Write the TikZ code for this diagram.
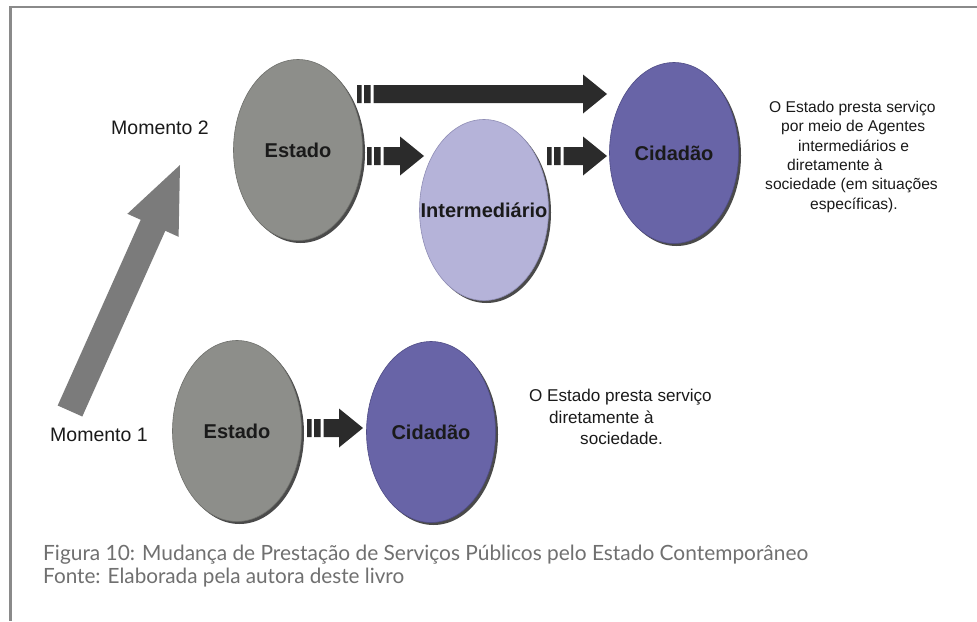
\documentclass[tikz,border=0pt]{standalone}
\usepackage{fontspec}
\usepackage{graphicx}
\setmainfont{Liberation Sans}
\newfontfamily\capfont{Lato}
\usetikzlibrary{shapes.geometric,shadows,calc}
\definecolor{framegray}{HTML}{8A8A8A}
\definecolor{estadofill}{HTML}{8D8E8A}
\definecolor{estadodraw}{HTML}{6E6F6B}
\definecolor{cidfill}{HTML}{6864A7}
\definecolor{ciddraw}{HTML}{4F4C85}
\definecolor{interfill}{HTML}{B5B3D9}
\definecolor{interdraw}{HTML}{8F8DB5}
\definecolor{shadowgray}{HTML}{4A4A4A}
\definecolor{arrowfill}{HTML}{2B2B2B}
\definecolor{bigarrowfill}{HTML}{7B7B7B}
\definecolor{labeltext}{HTML}{1A1A1A}
\definecolor{captext}{HTML}{707070}
\tikzset{
  blob/.style={ellipse, inner sep=0pt, minimum width=129pt, minimum height=181pt,
    line width=0.6pt,
    drop shadow={shadow xshift=2.5pt, shadow yshift=-2.5pt, fill=shadowgray, opacity=1},
    font=\bfseries\fontsize{20}{24}\selectfont, text=labeltext},
  estadoblob/.style={blob, fill=estadofill, draw=estadodraw},
  cidblob/.style={blob, fill=cidfill, draw=ciddraw},
  interblob/.style={blob, fill=interfill, draw=interdraw},
  momento/.style={font=\fontsize{19.5}{23}\selectfont, text=labeltext, inner sep=0pt},
  note/.style={align=left, inner sep=0pt, anchor=north west, text=labeltext},
  caption/.style={inner sep=0pt, anchor=base west, text=captext, font=\capfont\fontsize{21}{25}\selectfont}
}
\newcommand\blockarrow[2]{%
  \fill[arrowfill] let \p1=(#1), \p2=(#2) in
    (\x1,\y1-9pt) rectangle (\x1+4.5pt,\y1+9pt)
    (\x1+7pt,\y1-9pt) rectangle (\x1+13.5pt,\y1+9pt)
    (\x1+16.5pt,\y1-9pt) -- (\x2-24pt,\y1-9pt) -- (\x2-24pt,\y1-19.5pt) -- (\x2,\y1)
    -- (\x2-24pt,\y1+19.5pt) -- (\x2-24pt,\y1+9pt) -- (\x1+16.5pt,\y1+9pt) -- cycle;}
\begin{document}
\begin{tikzpicture}[x=1pt,y=-1pt]
\useasboundingbox (0,0) rectangle (977,621);
\fill[white] (0,0) rectangle (977,621);
% frame
\draw[framegray, line width=2.8pt] (977,7) -- (10.7,7) -- (10.7,621);

% Momento 2
\node[estadoblob] (E2) at (298,150) {\makebox[0pt]{Estado}};
\node[interblob] (I) at (484,210) {\makebox[0pt]{Intermediário}};
\node[cidblob] (C2) at (674,153) {\makebox[0pt]{Cidadão}};

% Momento 1
\node[estadoblob] (E1) at (237,431) {\makebox[0pt]{Estado}};
\node[cidblob] (C1) at (431,432) {\makebox[0pt]{Cidadão}};

% connectors
\coordinate (a1s) at (357,94);  \coordinate (a1e) at (607,94);
\coordinate (a2s) at (367,156); \coordinate (a2e) at (424,156);
\coordinate (a3s) at (547,156); \coordinate (a3e) at (607,156);
\coordinate (a4s) at (307,428); \coordinate (a4e) at (363,428);
\blockarrow{a1s}{a1e}
\blockarrow{a2s}{a2e}
\blockarrow{a3s}{a3e}
\blockarrow{a4s}{a4e}

% big gray arrow
\coordinate (bbase) at (70,411);
\coordinate (btip) at (180,165);
\fill[bigarrowfill] (57.7,405.5) -- (140.7,219.8) -- (127.4,213.8) -- (btip)
  -- (178.6,236.8) -- (165.3,230.8) -- (82.3,416.5) -- cycle;

% labels
\node[momento] (m2) at (160,128) {Momento 2};
\node[momento] (m1) at (99,435) {Momento 1};

\node[note, font=\fontsize{15.6}{19.3}\selectfont] (n2) at (765,101) {%
\hspace*{4pt}O Estado presta serviço\\
\hspace*{16pt}por meio de Agentes\\
\hspace*{33pt}intermediários e\\
\hspace*{22pt}diretamente à\\
sociedade (em situações\\
\hspace*{45pt}específicas).};

\node[note, font=\fontsize{17.1}{21.5}\selectfont] (n1) at (529,389) {%
O Estado presta serviço\\
\hspace*{20pt}diretamente à\\
\hspace*{51pt}sociedade.};

% caption
\node[caption] (cap1) at (43,560) {\resizebox{765pt}{\height}{Figura 10: Mudança de Prestação de Serviços Públicos pelo Estado Contemporâneo}};
\node[caption] (cap2) at (43,583) {\resizebox{361pt}{\height}{Fonte: Elaborada pela autora deste livro}};
\end{tikzpicture}
\end{document}
